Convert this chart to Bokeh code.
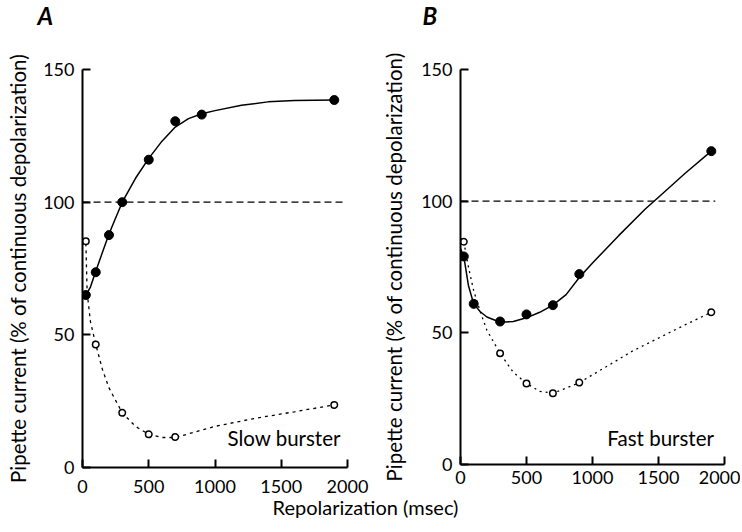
from bokeh.plotting import figure
from bokeh.layouts import column, row
from bokeh.models import Range1d, Label, FixedTicker
from bokeh.embed import file_html
from bokeh.resources import INLINE

FONT = "Lato"

# ---- Panel A (slow burster) ----
a_filled_x = [25, 100, 200, 300, 500, 700, 900, 1900]
a_filled_y = [65, 73.6, 87.6, 100, 116, 130.5, 133, 138.5]
a_open_x = [25, 100, 300, 500, 700, 1900]
a_open_y = [85.3, 46.4, 20.6, 12.5, 11.5, 23.6]
# hand-drawn fitted curves
a_solid_cx = [25, 60, 100, 150, 200, 250, 300, 400, 500, 600, 700, 800, 900, 1000, 1200, 1400, 1600, 1900]
a_solid_cy = [65, 68, 74, 81, 88, 94, 100, 109, 116.5, 123, 128.3, 131.5, 133.3, 134.5, 136.5, 137.8, 138.3, 138.5]
a_dot_cx = [0, 25, 35, 60, 100, 150, 200, 300, 400, 500, 600, 700, 1000, 1300, 1600, 1900]
a_dot_cy = [84, 85.3, 66, 55, 46.4, 37, 30, 20.6, 15.5, 12.5, 11.3, 11.3, 15.5, 18.5, 21, 23.6]

# ---- Panel B (fast burster) ----
b_filled_x = [25, 100, 300, 500, 700, 900, 1900]
b_filled_y = [79, 61, 54.3, 57, 60.5, 72.3, 119]
b_open_x = [25, 300, 500, 700, 900, 1900]
b_open_y = [84.6, 42.2, 30.8, 27.1, 31.1, 57.8]
b_solid_cx = [0, 25, 60, 100, 150, 200, 300, 400, 500, 600, 700, 800, 900, 1000, 1200, 1400, 1500, 1700, 1900]
b_solid_cy = [82, 79, 68, 61, 58, 56, 54, 54.3, 55.7, 57.8, 60.5, 64.5, 71, 76.5, 87, 97, 101.5, 110.5, 119]
b_dot_cx = [25, 60, 100, 150, 200, 300, 400, 500, 600, 700, 800, 900, 1100, 1300, 1500, 1700, 1900]
b_dot_cy = [84.6, 75, 66, 58, 51, 42.2, 35, 30.8, 27.8, 27.1, 29, 31.1, 37, 43, 48, 53, 57.8]

ref_y = [100, 100]

x_ticks = [0, 500, 1000, 1500, 2000]
y_ticks = [0, 50, 100, 150]
ylabel = "Pipette current (% of continuous depolarization)"
xlabel = "Repolarization (msec)"
panel_letters = ["A", "B"]
notes = ["Slow burster", "Fast burster"]


def make_panel(fw, fh, bl, bt, br, bb, fx, fy, ox, oy, scx, scy, dcx, dcy,
               dotdash, note, note_x, note_y, ref_end, xstand, ystand):
    p = figure(frame_width=fw, frame_height=fh, title=None,
               x_range=Range1d(0, 2000), y_range=Range1d(0, 150),
               output_backend="svg", toolbar_location=None,
               min_border_left=bl, min_border_top=bt, min_border_right=br, min_border_bottom=bb)
    p.outline_line_color = None
    p.grid.visible = False
    for ax in (p.xaxis[0], p.yaxis[0]):
        ax.axis_line_width = 2
        ax.major_tick_line_width = 2
        ax.major_tick_in = 8
        ax.major_tick_out = 0
        ax.minor_tick_line_color = None
        ax.major_label_text_font = FONT
        ax.major_label_text_font_size = "18px"
        ax.major_label_text_color = "black"
        ax.axis_line_color = "black"
        ax.major_tick_line_color = "black"
    p.xaxis.ticker = FixedTicker(ticks=x_ticks)
    p.yaxis.ticker = FixedTicker(ticks=y_ticks)
    p.xaxis.major_label_standoff = xstand
    p.yaxis.major_label_standoff = 8
    p.yaxis.axis_label = ylabel
    p.yaxis.axis_label_text_font = FONT
    p.yaxis.axis_label_text_font_size = "20.5px"
    p.yaxis.axis_label_text_font_style = "normal"
    p.yaxis.axis_label_text_color = "black"
    p.yaxis.axis_label_standoff = ystand

    p.line([0, ref_end], ref_y, line_color="black", line_width=1.3, line_dash="7 4")
    p.line(scx, scy, line_color="black", line_width=1.5)
    p.line(dcx, dcy, line_color="black", line_width=1.3, line_dash=dotdash)
    p.scatter(fx, fy, size=9, fill_color="black", line_color="black")
    p.scatter(ox, oy, size=6.5, fill_color="white", line_color="black", line_width=1.5)

    p.add_layout(Label(x=note_x, y=note_y, text=note, text_font=FONT, text_font_size="20.5px",
                       text_align="right", text_baseline="alphabetic", text_color="black"))
    return p


# top strip holding the panel letters
pT = figure(width=740, height=30, title=None, output_backend="svg", toolbar_location=None,
            x_range=Range1d(0, 740), y_range=Range1d(0, 30), min_border=0)
pT.outline_line_color = None
pT.axis.visible = False
pT.grid.visible = False
for lx, lt in zip([37, 422], panel_letters):
    pT.add_layout(Label(x=lx, y=15, text=lt, text_font=FONT, text_font_size="24px",
                        text_font_style="bold italic", text_align="left",
                        text_baseline="alphabetic", text_color="black"))

pA = make_panel(265, 398, 82, 39, 25, 50,
                a_filled_x, a_filled_y, a_open_x, a_open_y, a_solid_cx, a_solid_cy,
                a_dot_cx, a_dot_cy, "3 4", notes[0], 1950, 11.3, 1990, 12, 10)
pB = make_panel(264, 395, 88, 37, 16, 55,
                b_filled_x, b_filled_y, b_open_x, b_open_y, b_solid_cx, b_solid_cy,
                b_dot_cx, b_dot_cy, "2 4", notes[1], 1920, 9.9, 1930, 6, 12)

# bottom strip holding the shared x-axis title (transparent, slightly overlapping)
pX = figure(width=740, height=47, title=None, output_backend="svg", toolbar_location=None,
            x_range=Range1d(0, 740), y_range=Range1d(0, 47), min_border=0)
pX.outline_line_color = None
pX.background_fill_color = None
pX.border_fill_color = None
pX.axis.visible = False
pX.grid.visible = False
pX.margin = (-36, 0, 0, 0)
pX.add_layout(Label(x=365, y=22, text=xlabel, text_font=FONT, text_font_size="20px",
                    text_align="center", text_baseline="alphabetic", text_color="black"))

layout = column(pT, row(pA, pB), pX)
open("out.html", "w").write(file_html(layout, INLINE))
